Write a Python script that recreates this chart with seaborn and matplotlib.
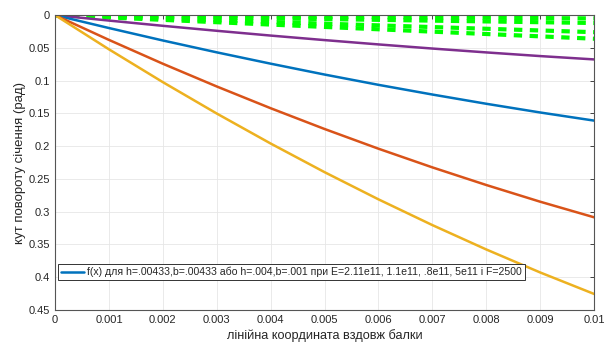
import numpy as np
import pandas as pd
import matplotlib
matplotlib.use("Agg")
import matplotlib.pyplot as plt
import seaborn as sns

# x positions along the beam
x = [0, 0.001, 0.002, 0.003, 0.004, 0.005, 0.006, 0.007, 0.008, 0.009, 0.01]

# solid curves
yellow = [0, 0.0522, 0.1023, 0.1502, 0.1960, 0.2397, 0.2812, 0.3205, 0.3577, 0.3928, 0.4256]
red = [0, 0.0378, 0.0742, 0.1089, 0.1421, 0.1738, 0.2039, 0.2324, 0.2593, 0.2848, 0.3086]
blue = [0, 0.0197, 0.0387, 0.0568, 0.0741, 0.0907, 0.1064, 0.1212, 0.1353, 0.1486, 0.161]
purple = [0, 0.0083, 0.0163, 0.0239, 0.0312, 0.0381, 0.0447, 0.051, 0.0569, 0.0625, 0.0676]

# green dashed curves near zero
green1 = [0, 0.0005, 0.001, 0.0015, 0.002, 0.0025, 0.003, 0.0035, 0.004, 0.0045, 0.005]
green2 = [0, 0.0012, 0.0024, 0.0036, 0.0048, 0.006, 0.0072, 0.0084, 0.0096, 0.0108, 0.012]
green3 = [0, 0.0026, 0.0052, 0.0078, 0.0104, 0.013, 0.0156, 0.0182, 0.0208, 0.0234, 0.026]
green4 = [0, 0.0036, 0.0072, 0.0108, 0.0144, 0.018, 0.0216, 0.0252, 0.0288, 0.0324, 0.036]

xticks = [0, 0.001, 0.002, 0.003, 0.004, 0.005, 0.006, 0.007, 0.008, 0.009, 0.01]
xticklabels = ["0", "0.001", "0.002", "0.003", "0.004", "0.005", "0.006", "0.007", "0.008", "0.009", "0.01"]
yticks = [0, 0.05, 0.1, 0.15, 0.2, 0.25, 0.3, 0.35, 0.4, 0.45]
yticklabels = ["0", "0.05", "0.1", "0.15", "0.2", "0.25", "0.3", "0.35", "0.4", "0.45"]

legend_text = "f(x) для h=.00433,b=.00433 або h=.004,b=.001 при E=2.11e11, 1.1e11, .8e11, 5e11 і F=2500"

sns.set_style("white")
plt.rcParams['font.family'] = ['Liberation Sans', 'DejaVu Sans']

fig = plt.figure(figsize=(6.05, 3.44), dpi=100)
ax = fig.add_axes([0.091, 0.099, 0.891, 0.857])

for g in [green1, green2, green3, green4]:
    sns.lineplot(x=x, y=g, color="#00ff00", linewidth=3, linestyle=(0, (2, 1.8)), ax=ax)

sns.lineplot(x=x, y=purple, color="#7E2F8E", linewidth=1.8, ax=ax)
sns.lineplot(x=x, y=blue, color="#0072BD", linewidth=1.8, ax=ax, label=legend_text)
sns.lineplot(x=x, y=red, color="#D95319", linewidth=1.8, ax=ax)
sns.lineplot(x=x, y=yellow, color="#EDB120", linewidth=1.8, ax=ax)

ax.set_xlim(0, 0.01)
ax.set_ylim(0.45, 0)
ax.set_xticks(xticks)
ax.set_xticklabels(xticklabels)
ax.set_yticks(yticks)
ax.set_yticklabels(yticklabels)
ax.tick_params(direction="in", length=3, labelsize=8, top=True, right=True, width=0.6)
ax.grid(True, color="#e6e6e6", linewidth=0.6)
for s in ax.spines.values():
    s.set_color("#555555")
    s.set_linewidth(0.8)

ax.set_xlabel("лінійна координата вздовж балки", fontsize=9.2, labelpad=3)
ax.set_ylabel("кут повороту січення (рад)", fontsize=9.5, labelpad=2)

leg = ax.legend(loc="lower left", bbox_to_anchor=(0.005, 0.1), fontsize=7.6,
                fancybox=False, framealpha=1, edgecolor="#333333",
                handlelength=2.2, handletextpad=0.3, borderpad=0.3, borderaxespad=0)
leg.get_frame().set_linewidth(0.7)

fig.savefig("out.png", dpi=100)
